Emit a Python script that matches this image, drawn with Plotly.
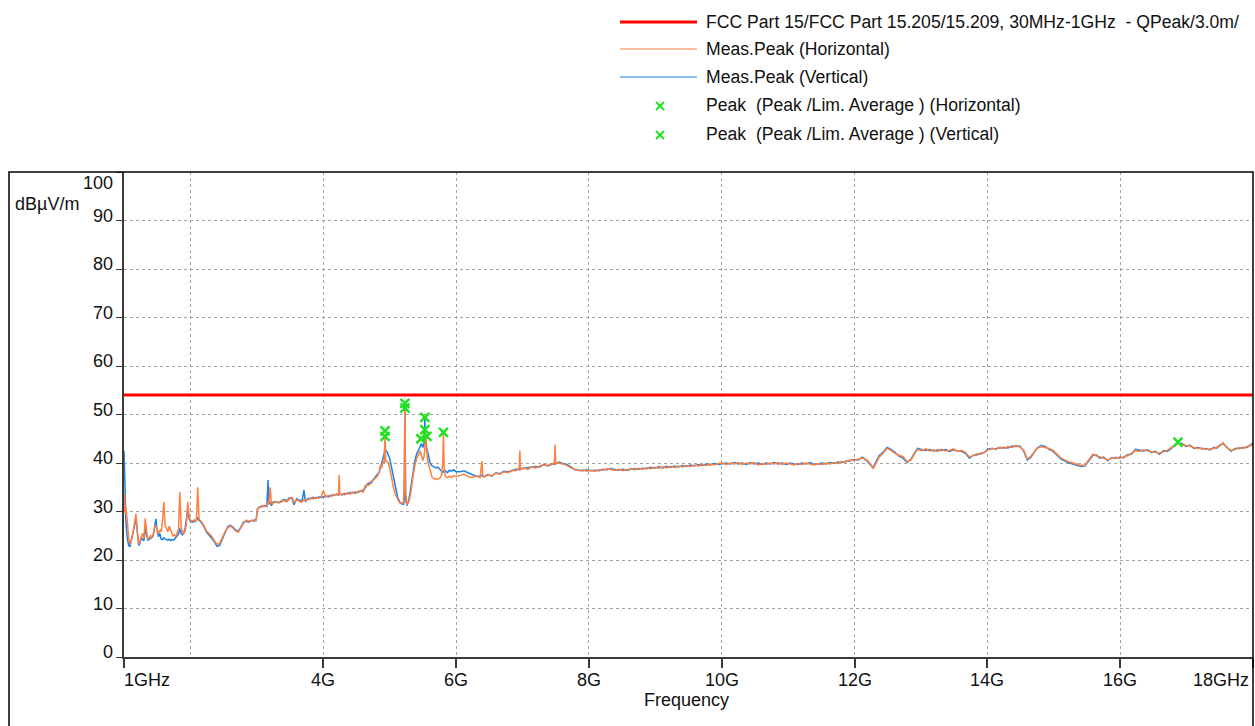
import plotly.graph_objects as go

FONT = "Liberation Sans, Arial, Helvetica, sans-serif"

# ---- sweep data: frequency (GHz) and field strength (dBµV/m) ----
freq_a = [
    1.00, 1.01, 1.02, 1.03, 1.05, 1.07, 1.09, 1.10, 1.12, 1.14,
    1.16, 1.18, 1.20, 1.22, 1.24, 1.26, 1.28, 1.30, 1.32, 1.34,
    1.36, 1.38, 1.40, 1.42, 1.44, 1.46, 1.48, 1.50, 1.52, 1.54,
    1.56, 1.58, 1.60, 1.62, 1.64, 1.66, 1.68, 1.70, 1.72, 1.74,
    1.76, 1.78, 1.80, 1.82, 1.84, 1.86, 1.88, 1.90, 1.92, 1.94,
    1.96, 1.98, 2.00]
horiz_a = [
    30.0, 33.5, 29.5, 30.8, 28.0, 24.5, 23.2, 23.6, 24.5, 26.0,
    27.8, 29.5, 26.0, 23.3, 23.8, 24.8, 25.5, 24.4, 28.6, 26.0,
    24.2, 24.6, 25.0, 24.7, 25.3, 26.8, 27.2, 26.0, 25.4, 26.2,
    25.8, 28.0, 32.0, 27.0, 26.6, 25.8, 27.0, 26.2, 25.4, 25.0,
    25.2, 24.8, 25.6, 26.2, 34.0, 27.0, 25.6, 25.4, 26.0, 27.5,
    32.0, 29.0, 28.2]
vert_a = [
    42.5, 36.0, 30.5, 27.5, 24.5, 23.0, 22.8, 23.4, 24.2, 25.5,
    27.2, 28.8, 25.5, 23.0, 23.5, 24.6, 24.2, 24.0, 26.5, 25.5,
    24.0, 24.3, 24.5, 24.6, 25.0, 26.5, 28.5, 26.0, 24.8, 25.5,
    24.3, 24.2, 24.6, 24.3, 24.2, 24.1, 24.3, 24.0, 24.2, 24.1,
    24.3, 24.6, 25.0, 25.3, 26.5, 25.5, 25.2, 25.6, 26.5, 28.2,
    30.5, 28.5, 28.0]

freq_b = [
    2.03, 2.06, 2.09, 2.11, 2.13, 2.16, 2.20, 2.24, 2.28, 2.32,
    2.36, 2.40, 2.44, 2.48, 2.52, 2.56, 2.60, 2.64, 2.68, 2.72,
    2.76, 2.80, 2.84, 2.88, 2.92, 2.96, 2.99, 3.01, 3.04, 3.08,
    3.12, 3.15, 3.17, 3.18, 3.20, 3.22, 3.25, 3.29, 3.33, 3.37,
    3.41, 3.45, 3.49, 3.53, 3.56, 3.60, 3.64, 3.68, 3.71, 3.73,
    3.77, 3.81, 3.85, 3.89, 3.93, 3.97, 4.00]
horiz_b = [
    28.0, 28.3, 27.9, 35.0, 28.4, 28.0, 27.2, 26.0, 25.4, 24.9,
    24.0, 23.2, 23.4, 24.6, 25.8, 26.6, 27.0, 26.6, 26.0, 25.7,
    26.6, 27.6, 28.2, 28.0, 28.1, 28.3, 28.0, 30.6, 30.8, 31.2,
    31.0, 31.3, 32.0, 31.4, 35.0, 31.5, 31.8, 32.1, 31.7, 32.3,
    32.2, 32.0, 32.6, 32.9, 31.9, 32.4, 32.1, 31.9, 32.5, 32.2,
    32.5, 32.8, 32.6, 32.9, 32.7, 33.1, 34.3]
vert_b = [
    27.8, 28.0, 28.1, 28.8, 28.2, 27.8, 27.0, 25.8, 25.2, 24.6,
    23.8, 22.8, 23.0, 24.3, 25.6, 26.8, 27.2, 26.8, 26.2, 25.9,
    26.8, 27.8, 28.0, 27.8, 28.2, 28.0, 28.4, 30.4, 31.0, 31.0,
    31.2, 31.0, 36.5, 31.6, 31.8, 31.2, 32.0, 31.9, 31.9, 32.0,
    32.5, 32.2, 32.8, 32.7, 31.4, 32.6, 32.3, 32.2, 34.4, 32.0,
    32.7, 32.6, 32.9, 32.7, 33.0, 32.9, 33.0]

freq_c = [
    4.04, 4.08, 4.12, 4.16, 4.20, 4.23, 4.24, 4.25, 4.28, 4.32,
    4.36, 4.40, 4.44, 4.48, 4.52, 4.56, 4.60, 4.63, 4.66, 4.69,
    4.72, 4.75, 4.78, 4.81, 4.84, 4.86, 4.88, 4.90, 4.92, 4.93,
    4.94, 4.96, 4.98, 5.00, 5.03, 5.06, 5.09, 5.12, 5.15, 5.18,
    5.21, 5.22, 5.23, 5.24, 5.26, 5.29, 5.32, 5.35, 5.38, 5.41,
    5.44, 5.46, 5.48, 5.50, 5.52, 5.53, 5.54, 5.56, 5.58, 5.61,
    5.64, 5.67, 5.70, 5.73, 5.76, 5.78, 5.80, 5.81, 5.82, 5.84,
    5.87, 5.90, 5.93, 5.96, 6.00]
horiz_c = [
    33.0, 33.3, 33.1, 33.5, 33.4, 33.6, 37.5, 33.5, 33.6, 33.4,
    33.9, 33.6, 34.0, 33.7, 34.1, 34.3, 34.0, 35.2, 35.6, 35.4,
    36.2, 36.4, 36.8, 37.2, 38.0, 39.5, 39.0, 40.5, 40.0, 46.0,
    40.5, 40.2, 40.0, 39.0, 36.8, 34.8, 33.4, 32.6, 31.8, 31.7,
    31.9, 36.0, 51.2, 34.0, 31.4, 32.0, 34.0, 37.0, 39.5, 41.0,
    42.0, 42.5, 41.5, 40.5, 41.5, 43.0, 46.8, 42.0, 40.0, 38.2,
    37.0, 36.8, 36.6, 36.7, 36.9, 37.4, 40.0, 46.2, 39.0, 37.2,
    37.0, 37.3, 37.0, 37.4, 37.2]
vert_c = [
    33.2, 33.0, 33.4, 33.3, 33.6, 33.4, 33.8, 33.6, 33.4, 33.7,
    33.6, 33.9, 33.8, 34.0, 33.9, 34.2, 34.4, 34.8, 35.6, 35.9,
    35.8, 36.5, 37.2, 37.6, 38.0, 39.0, 40.0, 41.0, 42.0, 44.0,
    42.5, 42.3, 41.8, 41.0, 39.0, 36.8, 34.5, 33.0, 32.0, 31.6,
    31.5, 33.0, 52.2, 32.5, 31.2, 32.5, 35.0, 38.0, 40.5, 42.0,
    43.0, 43.5, 44.0, 43.2, 44.2, 49.2, 44.0, 43.0, 41.5, 40.0,
    39.4, 39.2, 39.0, 39.1, 38.6, 38.2, 38.0, 38.4, 38.2, 38.4,
    38.0, 38.5, 38.3, 38.6, 38.2]

freq_d = [
    6.06, 6.12, 6.18, 6.24, 6.30, 6.36, 6.39, 6.40, 6.42, 6.48,
    6.54, 6.60, 6.66, 6.72, 6.78, 6.84, 6.90, 6.95, 6.96, 6.97,
    7.02, 7.08, 7.14, 7.20, 7.26, 7.32, 7.38, 7.44, 7.48, 7.49,
    7.50, 7.55, 7.61, 7.67, 7.73, 7.79, 7.85, 7.91, 7.97, 8.03,
    8.09, 8.15, 8.21, 8.27, 8.33, 8.39, 8.45, 8.51, 8.57, 8.63,
    8.69, 8.75, 8.81, 8.87, 8.93, 8.99, 9.05, 9.11, 9.17, 9.23,
    9.29, 9.35, 9.41, 9.47, 9.53, 9.59, 9.65, 9.71, 9.77, 9.83,
    9.89, 9.95, 10.01, 10.07, 10.13, 10.19, 10.25, 10.31, 10.37, 10.43,
    10.49, 10.55, 10.61, 10.67, 10.73, 10.79, 10.85, 10.91, 10.97, 11.03,
    11.09, 11.15, 11.21, 11.27, 11.33, 11.39, 11.45, 11.51, 11.57, 11.63,
    11.69, 11.75, 11.81, 11.87, 11.93, 11.99]
horiz_d = [
    37.4, 37.7, 37.2, 37.0, 37.3, 37.0, 40.4, 37.5, 37.1, 37.5,
    37.4, 37.9, 37.7, 38.2, 38.0, 38.5, 38.4, 38.9, 42.5, 38.6,
    39.0, 38.7, 39.2, 39.0, 39.4, 39.6, 39.5, 39.9, 39.7, 43.8,
    39.9, 40.0, 39.8, 39.5, 39.0, 38.7, 38.4, 38.6, 38.3, 38.5,
    38.3, 38.6, 38.5, 38.8, 38.6, 38.5, 38.7, 38.4, 38.6, 38.8,
    38.6, 38.9, 38.7, 39.0, 38.8, 39.1, 38.9, 39.2, 39.0, 39.3,
    39.1, 39.4, 39.2, 39.5, 39.3, 39.6, 39.4, 39.7, 39.5, 39.8,
    39.6, 39.9, 40.0, 39.7, 40.0, 39.8, 40.1, 39.7, 40.0, 39.8,
    40.1, 39.6, 39.9, 39.7, 40.0, 39.8, 40.1, 39.7, 40.0, 39.8,
    39.6, 39.9, 39.7, 40.0, 39.8, 39.6, 39.9, 39.7, 40.0, 39.8,
    40.1, 39.9, 40.3, 40.2, 40.6, 40.5]
vert_d = [
    38.2, 38.4, 38.0, 37.6, 37.3, 37.2, 37.5, 37.3, 37.2, 37.6,
    37.3, 38.0, 37.8, 38.3, 38.2, 38.4, 38.7, 38.6, 39.0, 38.8,
    38.9, 39.0, 39.1, 39.3, 39.2, 39.7, 39.4, 39.8, 39.9, 40.0,
    39.8, 40.2, 39.9, 39.7, 39.2, 38.6, 38.5, 38.4, 38.6, 38.4,
    38.5, 38.4, 38.7, 38.6, 38.8, 38.6, 38.5, 38.7, 38.5, 38.7,
    38.8, 38.7, 38.9, 38.8, 39.1, 38.9, 39.2, 39.0, 39.3, 39.1,
    39.4, 39.2, 39.5, 39.3, 39.6, 39.4, 39.7, 39.5, 39.8, 39.6,
    39.9, 39.7, 39.9, 40.0, 39.8, 40.1, 39.8, 40.0, 39.7, 40.1,
    39.8, 40.0, 39.7, 40.0, 39.8, 40.1, 39.8, 40.0, 39.7, 40.0,
    39.8, 39.7, 40.0, 39.8, 40.1, 39.7, 39.8, 40.0, 39.8, 40.1,
    39.9, 40.2, 40.1, 40.4, 40.4, 40.7]

freq_e = [
    12.05, 12.12, 12.19, 12.24, 12.28, 12.32, 12.37, 12.43, 12.49, 12.55,
    12.61, 12.67, 12.73, 12.79, 12.85, 12.90, 12.95, 13.01, 13.07, 13.13,
    13.19, 13.25, 13.31, 13.37, 13.43, 13.49, 13.55, 13.61, 13.67, 13.73,
    13.79, 13.85, 13.90, 13.95, 14.01, 14.07, 14.13, 14.19, 14.25, 14.31,
    14.37, 14.43, 14.49, 14.55, 14.60, 14.65, 14.70, 14.75, 14.81, 14.87,
    14.93, 14.99, 15.05, 15.11, 15.17, 15.23, 15.29, 15.35, 15.41, 15.47,
    15.53, 15.59, 15.64, 15.69, 15.75, 15.81, 15.87, 15.93, 15.99, 16.05,
    16.11, 16.17, 16.23, 16.29, 16.35, 16.41, 16.47, 16.53, 16.59, 16.65,
    16.71, 16.77, 16.83, 16.87, 16.93, 16.99, 17.05, 17.11, 17.17, 17.23,
    17.29, 17.35, 17.41, 17.46, 17.50, 17.55, 17.61, 17.67, 17.73, 17.79,
    17.85, 17.91, 17.97, 18.00]
horiz_e = [
    40.8, 41.0, 40.6, 39.8, 38.8, 40.0, 41.2, 42.0, 43.0, 42.6,
    42.0, 41.6, 41.3, 40.3, 40.6, 41.8, 42.8, 42.6, 42.9, 42.5,
    42.7, 42.4, 42.8, 42.5, 42.6, 42.9, 42.4, 42.6, 42.2, 41.2,
    41.5, 41.9, 41.8, 42.2, 42.8, 43.1, 42.8, 43.3, 43.0, 43.4,
    43.2, 43.6, 43.3, 42.6, 40.8, 41.3, 42.2, 43.0, 43.4, 43.2,
    43.0, 42.6, 41.8, 41.0, 40.6, 40.2, 40.0, 39.7, 39.5, 39.6,
    40.8, 41.8, 41.5, 41.2, 41.0, 40.7, 40.9, 41.2, 41.0, 41.3,
    41.5, 42.0, 42.6, 42.4, 42.7, 42.5, 42.4, 42.2, 42.0, 42.3,
    42.6, 43.2, 43.6, 44.2, 43.8, 43.6, 43.5, 43.2, 43.0, 43.1,
    42.8, 42.9, 43.0, 43.3, 43.5, 44.2, 43.1, 42.6, 42.8, 43.2,
    43.0, 43.4, 43.6, 43.9]
vert_e = [
    40.6, 41.2, 40.4, 39.5, 39.0, 40.2, 41.5, 42.2, 43.2, 42.8,
    42.2, 41.4, 41.0, 40.1, 40.8, 42.0, 43.0, 42.8, 42.6, 42.8,
    42.5, 42.7, 42.6, 42.8, 42.4, 42.7, 42.6, 42.4, 42.0, 41.0,
    41.6, 41.7, 42.0, 42.1, 42.9, 42.9, 43.0, 43.1, 43.2, 43.1,
    43.5, 43.4, 43.5, 42.4, 40.6, 41.1, 42.0, 43.1, 43.6, 43.4,
    42.8, 42.4, 41.6, 40.8, 40.4, 40.0, 39.8, 39.5, 39.3, 39.4,
    40.6, 41.6, 41.7, 41.0, 41.2, 40.5, 41.1, 41.0, 41.2, 41.1,
    41.7, 41.8, 42.8, 42.6, 42.5, 42.7, 42.2, 42.4, 41.8, 42.5,
    42.4, 43.0, 43.8, 44.0, 44.0, 43.4, 43.7, 43.0, 43.2, 42.9,
    43.0, 42.7, 43.2, 43.1, 43.7, 44.0, 43.3, 42.4, 43.0, 43.0,
    43.2, 43.2, 43.8, 44.1]

freq_ghz = freq_a + freq_b + freq_c + freq_d + freq_e
horiz_dbuv = horiz_a + horiz_b + horiz_c + horiz_d + horiz_e
vert_dbuv = vert_a + vert_b + vert_c + vert_d + vert_e
if not (len(freq_ghz) == len(horiz_dbuv) == len(vert_dbuv)):
    raise ValueError("sweep lists differ in length")

# limit line
limit_freq = [1.0, 18.0]
limit_dbuv = [54.0, 54.0]

# peak finds
peak_h_freq = [4.93, 5.23, 5.47, 5.56, 5.81, 16.87]
peak_h_dbuv = [45.5, 51.3, 45.0, 45.5, 46.3, 44.3]
peak_v_freq = [4.93, 5.23, 5.53, 5.53]
peak_v_dbuv = [46.6, 52.3, 49.4, 46.9]

# axis labelling
x_tick_vals = [1, 4, 6, 8, 10, 12, 14, 16, 18]
x_tick_text = ["1GHz", "4G", "6G", "8G", "10G", "12G", "14G", "16G", "18GHz"]
x_minor_grid = [2]
y_tick_vals = [0, 10, 20, 30, 40, 50, 60, 70, 80, 90, 100]

legend_labels = [
    "FCC Part 15/FCC Part 15.205/15.209, 30MHz-1GHz  - QPeak/3.0m/",
    "Meas.Peak (Horizontal)",
    "Meas.Peak (Vertical)",
    "Peak  (Peak /Lim. Average ) (Horizontal)",
    "Peak  (Peak /Lim. Average ) (Vertical)",
]

# ---- styling ----
RED = "#ff0000"
ORANGE = "#ff7f3f"
BLUE = "#1a80ea"
GREEN = "#22e022"
GRID = "#a4a4a4"
AXIS = "#3a3a3a"
TEXT = "#111111"
TICK_SIZE = 18
LEGEND_SIZE = 17.6

W, H = 1255, 726
ML, MR, MT, MB = 124, 2, 172, 69
PW, PH = W - ML - MR, H - MT - MB


def px(x):
    return (x - ML) / PW


def py(y):
    return (H - MB - y) / PH


fig = go.Figure()

fig.add_trace(go.Scatter(x=freq_ghz, y=vert_dbuv, mode="lines",
                         line=dict(color=BLUE, width=1.5), name=legend_labels[2]))
fig.add_trace(go.Scatter(x=freq_ghz, y=horiz_dbuv, mode="lines",
                         line=dict(color=ORANGE, width=1.5), name=legend_labels[1]))
fig.add_trace(go.Scatter(x=limit_freq, y=limit_dbuv, mode="lines",
                         line=dict(color=RED, width=3), name=legend_labels[0]))
marker_style = dict(symbol="x-thin", size=9, color=GREEN,
                    line=dict(color=GREEN, width=2.5))
fig.add_trace(go.Scatter(x=peak_h_freq, y=peak_h_dbuv, mode="markers",
                         marker=marker_style, name=legend_labels[3]))
fig.add_trace(go.Scatter(x=peak_v_freq, y=peak_v_dbuv, mode="markers",
                         marker=marker_style, name=legend_labels[4]))

shapes = []
annotations = []

# outer frame around the plot panel
shapes.append(dict(type="rect", xref="paper", yref="paper",
                   x0=px(9), x1=px(1253), y0=py(740), y1=py(172),
                   line=dict(color="#000000", width=1.5), layer="above"))

# legend block above the panel
legend_rows = [22, 49, 77, 105, 134]
line_styles = [(RED, 3), (ORANGE, 1.2), (BLUE, 1.2)]
for i, (col, wid) in enumerate(line_styles):
    shapes.append(dict(type="line", xref="paper", yref="paper",
                       x0=px(620), x1=px(697), y0=py(legend_rows[i]), y1=py(legend_rows[i]),
                       line=dict(color=col, width=wid)))
for row in legend_rows[3:]:
    for d in (1, -1):
        shapes.append(dict(type="line", xref="paper", yref="paper",
                           x0=px(656), x1=px(664),
                           y0=py(row + 1 - 4 * d), y1=py(row + 1 + 4 * d),
                           line=dict(color=GREEN, width=2)))
for label, row in zip(legend_labels, legend_rows):
    annotations.append(dict(text=label, xref="paper", yref="paper",
                            x=px(704), y=py(row), xanchor="left", yanchor="middle",
                            showarrow=False, font=dict(family=FONT, size=LEGEND_SIZE, color=TEXT)))

# y tick labels
for v in y_tick_vals:
    annotations.append(dict(text=str(v), xref="paper", yref="y",
                            x=px(115), y=v, xanchor="right", yanchor="middle",
                            yshift=(-11 if v == 100 else 5), showarrow=False,
                            font=dict(family=FONT, size=TICK_SIZE, color=TEXT)))

# x tick labels
for v, t in zip(x_tick_vals, x_tick_text):
    anchor = "center"
    shift = 0
    if v == x_tick_vals[0]:
        anchor, shift = "left", -2
    elif v == x_tick_vals[-1]:
        anchor, shift = "right", -2
    annotations.append(dict(text=t, xref="x", yref="paper", x=v, y=py(680),
                            xanchor=anchor, yanchor="middle", xshift=shift,
                            showarrow=False,
                            font=dict(family=FONT, size=TICK_SIZE, color=TEXT)))

annotations.append(dict(text="Frequency", xref="paper", yref="paper",
                        x=px(686), y=py(700), xanchor="center", yanchor="middle",
                        showarrow=False, font=dict(family=FONT, size=TICK_SIZE, color=TEXT)))
annotations.append(dict(text="dBµV/m", xref="paper", yref="paper",
                        x=px(47), y=py(204), xanchor="center", yanchor="middle",
                        showarrow=False, font=dict(family=FONT, size=TICK_SIZE, color=TEXT)))

fig.update_layout(
    width=W, height=H,
    margin=dict(l=ML, r=MR, t=MT, b=MB, pad=0),
    paper_bgcolor="white", plot_bgcolor="white",
    showlegend=False,
    shapes=shapes, annotations=annotations,
    font=dict(family=FONT, size=TICK_SIZE, color=TEXT),
)
fig.update_xaxes(
    range=[1, 18], tickmode="array", tickvals=x_tick_vals, showticklabels=False,
    ticks="outside", ticklen=9, tickwidth=1.5, tickcolor=AXIS,
    showline=True, linecolor=AXIS, linewidth=2,
    showgrid=True, gridcolor=GRID, gridwidth=1, griddash="dot", zeroline=False,
    minor=dict(tickvals=x_minor_grid, showgrid=True, gridcolor=GRID, griddash="dot",
               gridwidth=1, ticks=""),
)
fig.update_yaxes(
    range=[0, 100], tickmode="array", tickvals=y_tick_vals, showticklabels=False,
    ticks="outside", ticklen=6, tickwidth=1.2, tickcolor=AXIS,
    showline=True, linecolor=AXIS, linewidth=1.5,
    showgrid=True, gridcolor=GRID, gridwidth=1, griddash="dot", zeroline=False,
)

fig.write_html("out.html", config=dict(displayModeBar=False))
